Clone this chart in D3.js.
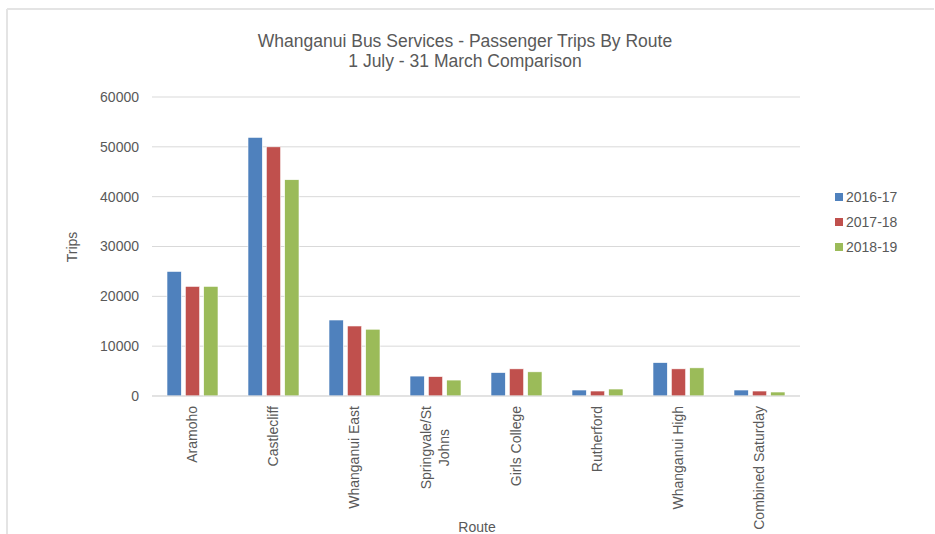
<!DOCTYPE html>
<html>
<head>
<meta charset="utf-8">
<script src="https://cdn.jsdelivr.net/npm/d3@7"></script>
<style>
  body { margin: 0; background: #fff; }
  svg { display: block; font-family: "Liberation Sans", Arial, sans-serif; }
</style>
</head>
<body>
<div class="chart"></div>
<script>
var routes = ["Aramoho", "Castlecliff", "Whanganui East", "Springvale/St Johns", "Girls College", "Rutherford", "Whanganui High", "Combined Saturday"];
var seasons = ["2016-17", "2017-18", "2018-19"];
var trips1617 = [25000, 51900, 15250, 4000, 4700, 1200, 6700, 1200];
var trips1718 = [22000, 50000, 14050, 3900, 5450, 1000, 5450, 1000];
var trips1819 = [22000, 43400, 13400, 3200, 4850, 1400, 5650, 800];
var yTicks = [0, 10000, 20000, 30000, 40000, 50000, 60000];
var colors = ["#4f81bd", "#c0504d", "#9bbb59"];

var W = 935, H = 534;
var m = {left: 152, right: 135, top: 97, bottom: 138};

var svg = d3.select(".chart").append("svg")
    .attr("width", W)
    .attr("height", H);

// light frame (only top + left edges show)
svg.append("line").attr("x1", 7).attr("x2", 934).attr("y1", 9).attr("y2", 9)
    .attr("stroke", "#e4e4e4").attr("stroke-width", 2);
svg.append("line").attr("x1", 7).attr("x2", 7).attr("y1", 9).attr("y2", H)
    .attr("stroke", "#e4e4e4").attr("stroke-width", 2);

var x0 = d3.scaleBand().domain(routes).range([m.left, W - m.right]);
var x1 = d3.scaleBand().domain(seasons).range([15, 66]).paddingInner(0.22);
var y = d3.scaleLinear().domain([0, 60000]).range([H - m.bottom, m.top]);

// gridlines
svg.append("g").selectAll("line").data(yTicks).enter().append("line")
    .attr("x1", m.left).attr("x2", W - m.right)
    .attr("y1", function(d) { return y(d); }).attr("y2", function(d) { return y(d); })
    .attr("stroke", "#d9d9d9").attr("stroke-width", 1);

// y axis labels
var yAxis = d3.axisLeft(y).tickValues(yTicks).tickSize(0).tickPadding(13).tickFormat(d3.format("d"));
var ga = svg.append("g").attr("transform", "translate(" + m.left + ",0)").call(yAxis);
ga.select(".domain").remove();
ga.selectAll("text").attr("fill", "#595959").style("font-size", "14px")
    .style("font-family", "'Liberation Sans', Arial, sans-serif");

var series = [trips1617, trips1718, trips1819];
series.forEach(function(vals, s) {
    svg.append("g").selectAll("rect").data(vals).enter().append("rect")
        .attr("x", function(d, i) { return x0(routes[i]) + x1(seasons[s]); })
        .attr("width", x1.bandwidth())
        .attr("y", function(d) { return y(d); })
        .attr("height", function(d) { return y(0) - y(d); })
        .attr("fill", colors[s])
        .attr("stroke", "#fff").attr("stroke-width", 0.6);
});

// x baseline
svg.append("line").attr("x1", m.left).attr("x2", W - m.right)
    .attr("y1", y(0)).attr("y2", y(0)).attr("stroke", "#d9d9d9");

// category labels, rotated; long one wraps into two centred lines
var xl = svg.append("g").selectAll("text").data(routes).enter().append("text")
    .attr("transform", function(d) {
        return "translate(" + (x0(d) + x0.bandwidth() / 2) + "," + (y(0) + 10) + ") rotate(-90)";
    })
    .attr("fill", "#595959")
    .style("font-size", "14px");
xl.each(function(d) {
    var t = d3.select(this);
    var parts = d === "Springvale/St Johns" ? ["Springvale/St", "Johns"] : [d];
    var first = t.append("tspan").attr("x", 0).attr("text-anchor", "end")
        .attr("dy", parts.length > 1 ? "-0.3em" : "0.35em").text(parts[0]);
    if (parts.length > 1) {
        var w = first.node().getComputedTextLength();
        t.append("tspan").attr("x", -w / 2).attr("text-anchor", "middle")
            .attr("dy", "1.3em").text(parts[1]);
    }
});

// titles
svg.append("text").attr("x", 465).attr("y", 47).attr("text-anchor", "middle")
    .attr("fill", "#595959").style("font-size", "17.5px")
    .text("Whanganui Bus Services - Passenger Trips By Route");
svg.append("text").attr("x", 465).attr("y", 67).attr("text-anchor", "middle")
    .attr("fill", "#595959").style("font-size", "17.5px")
    .text("1 July - 31 March Comparison");

svg.append("text").attr("x", 477).attr("y", 532).attr("text-anchor", "middle")
    .attr("fill", "#595959").style("font-size", "14px").text("Route");
svg.append("text").attr("transform", "translate(77,247) rotate(-90)").attr("text-anchor", "middle")
    .attr("fill", "#595959").style("font-size", "14px").text("Trips");

// legend
var lg = svg.append("g").selectAll("g").data(seasons).enter().append("g")
    .attr("transform", function(d, i) { return "translate(835," + (197 + i * 25) + ")"; });
lg.append("rect").attr("x", 0).attr("y", -4).attr("width", 8).attr("height", 8)
    .attr("fill", function(d, i) { return colors[i]; });
lg.append("text").attr("x", 11).attr("y", 5).attr("fill", "#595959")
    .style("font-size", "14px").text(function(d) { return d; });
</script>
</body>
</html>
